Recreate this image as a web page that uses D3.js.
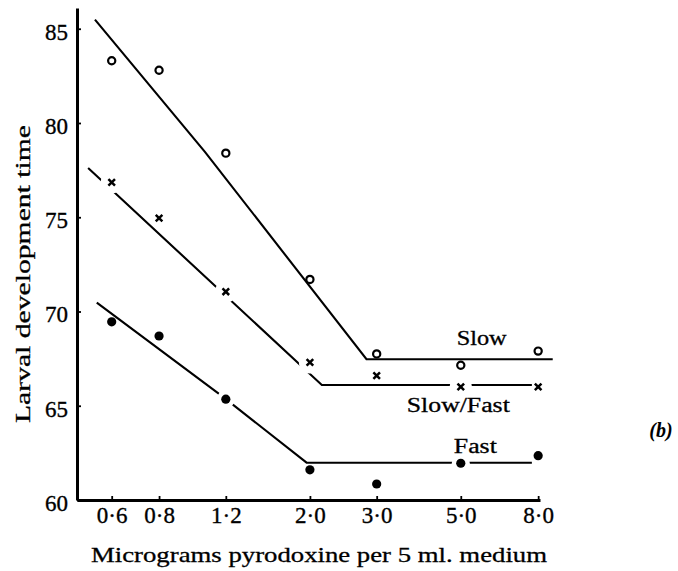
<!DOCTYPE html>
<html>
<head>
<meta charset="utf-8">
<script src="https://cdn.jsdelivr.net/npm/d3@7"></script>
<style>
  body { margin: 0; background: #fff; }
  svg text { font-family: "Liberation Serif", "Times New Roman", serif; fill: #000; }
</style>
</head>
<body>
<svg id="chart" width="678" height="571"></svg>
<script>
// Pyridoxine dose (micrograms per 5 ml medium) and larval development time
const doses = [0.6, 0.8, 1.2, 2.0, 3.0, 5.0, 8.0];
const slowTimes = [83.3, 82.8, 78.4, 71.7, 67.75, 67.15, 67.9];
const slowFastTimes = [76.85, 74.95, 71.05, 67.3, 66.6, 66.0, 66.0];
const fastTimes = [69.45, 68.7, 65.35, 61.6, 60.85, 61.95, 62.35];

// Fitted response lines (dose, time) for each strain
const slowFitDose = [0.542, 1.057, 2.82, 8.74];
const slowFitTime = [85.48, 78.47, 67.47, 67.47];
const slowFastFitDose = [0.520, 2.15, 7.70];
const slowFastFitTime = [77.61, 66.1, 66.1];
const fastFitDose = [0.548, 1.18, 1.96, 7.70];
const fastFitTime = [70.47, 65.47, 61.98, 61.98];

// Doses where the fitted line is interrupted around the plotted point
const slowFastBreaks = [0.6, 1.2, 2.0, 5.0];
const fastBreaks = [1.2, 5.0];

const yTicks = [60, 65, 70, 75, 80, 85];
const xTicks = doses;

const svg = d3.select("#chart");

const x = d3.scaleLog().domain([0.486, 8.09]).range([77, 540]);
const y = d3.scaleLinear().domain([60, 86.1]).range([500, 8]);

// Axes
const yAxis = d3.axisLeft(y)
  .tickValues(yTicks)
  .tickSize(-4)
  .tickSizeOuter(0)
  .tickPadding(9)
  .tickFormat(d3.format("d"));

const xAxis = d3.axisBottom(x)
  .tickValues(xTicks)
  .tickSize(-4)
  .tickSizeOuter(0)
  .tickPadding(7)
  .tickFormat(d => d.toFixed(1).replace(".", "\u00B7"));

const gy = svg.append("g").attr("transform", "translate(77,0)").call(yAxis);
const gx = svg.append("g").attr("transform", "translate(0,500)").call(xAxis);

[gx, gy].forEach(g => {
  g.select(".domain").attr("stroke", "#000").attr("stroke-width", 3);
  g.selectAll(".tick line").attr("stroke", "#000").attr("stroke-width", 1.8);
  g.selectAll(".tick text")
    .attr("fill", "#000")
    .attr("stroke", "#000")
    .attr("stroke-width", 0.35)
    .style("font-family", "'Liberation Serif', serif")
    .style("font-size", "23px");
});
gy.selectAll(".tick text").attr("dy", "0.45em");

// Fitted lines
const line = d3.line().x(d => x(d[0])).y(d => y(d[1]));
const zip = (a, b) => a.map((v, i) => [v, b[i]]);

const fits = [
  zip(slowFitDose, slowFitTime),
  zip(slowFastFitDose, slowFastFitTime),
  zip(fastFitDose, fastFitTime)
];
svg.append("g").selectAll("path").data(fits).join("path")
  .attr("d", line)
  .attr("fill", "none")
  .attr("stroke", "#000")
  .attr("stroke-width", 2.1);

// White halos that interrupt the lines around selected points
const halo = svg.append("g");
halo.selectAll("circle.sf")
  .data(zip(doses, slowFastTimes).filter(d => slowFastBreaks.includes(d[0])))
  .join("circle").attr("class", "sf")
  .attr("cx", d => x(d[0])).attr("cy", d => y(d[1]))
  .attr("r", 11).attr("fill", "#fff");
halo.selectAll("circle.f")
  .data(zip(doses, fastTimes).filter(d => fastBreaks.includes(d[0])))
  .join("circle").attr("class", "f")
  .attr("cx", d => x(d[0])).attr("cy", d => y(d[1]))
  .attr("r", 9).attr("fill", "#fff");

// Slow: open circles
svg.append("g").selectAll("circle")
  .data(zip(doses, slowTimes)).join("circle")
  .attr("cx", d => x(d[0])).attr("cy", d => y(d[1]))
  .attr("r", 3.6)
  .attr("fill", "#fff")
  .attr("stroke", "#000")
  .attr("stroke-width", 2.2);

// Slow/Fast: crosses
svg.append("g").selectAll("path")
  .data(zip(doses, slowFastTimes)).join("path")
  .attr("d", d => {
    const cx = x(d[0]), cy = y(d[1]), s = 3.3;
    return `M${cx - s},${cy - s}L${cx + s},${cy + s}M${cx + s},${cy - s}L${cx - s},${cy + s}`;
  })
  .attr("stroke", "#000")
  .attr("stroke-width", 2.5)
  .attr("fill", "none");

// Fast: filled circles
svg.append("g").selectAll("circle")
  .data(zip(doses, fastTimes)).join("circle")
  .attr("cx", d => x(d[0])).attr("cy", d => y(d[1]))
  .attr("r", 4.6)
  .attr("fill", "#000");

// Strain labels
const labels = [
  { text: "Slow", cx: 481.7, base: 345, w: 50 },
  { text: "Slow/Fast", cx: 458.3, base: 411.5, w: 103 },
  { text: "Fast", cx: 475.3, base: 453, w: 43 }
];
svg.append("g").selectAll("text").data(labels).join("text")
  .attr("x", d => d.cx).attr("y", d => d.base)
  .attr("text-anchor", "middle")
  .attr("textLength", d => d.w)
  .attr("lengthAdjust", "spacingAndGlyphs")
  .attr("stroke", "#000")
  .attr("stroke-width", 0.3)
  .style("font-size", "20px")
  .text(d => d.text);

// Axis titles
svg.append("text")
  .attr("transform", "translate(30,274) rotate(-90)")
  .attr("text-anchor", "middle")
  .attr("textLength", 298)
  .attr("lengthAdjust", "spacingAndGlyphs")
  .attr("stroke", "#000")
  .attr("stroke-width", 0.3)
  .style("font-size", "21px")
  .text("Larval development time");

svg.append("text")
  .attr("x", 319).attr("y", 562)
  .attr("text-anchor", "middle")
  .attr("textLength", 456)
  .attr("lengthAdjust", "spacingAndGlyphs")
  .attr("stroke", "#000")
  .attr("stroke-width", 0.3)
  .style("font-size", "22px")
  .text("Micrograms pyrodoxine per 5 ml. medium");

// Panel marker
svg.append("text")
  .attr("x", 661).attr("y", 437)
  .attr("text-anchor", "middle")
  .style("font-size", "20px")
  .style("font-style", "italic")
  .style("font-weight", "bold")
  .text("(b)");
</script>
</body>
</html>
